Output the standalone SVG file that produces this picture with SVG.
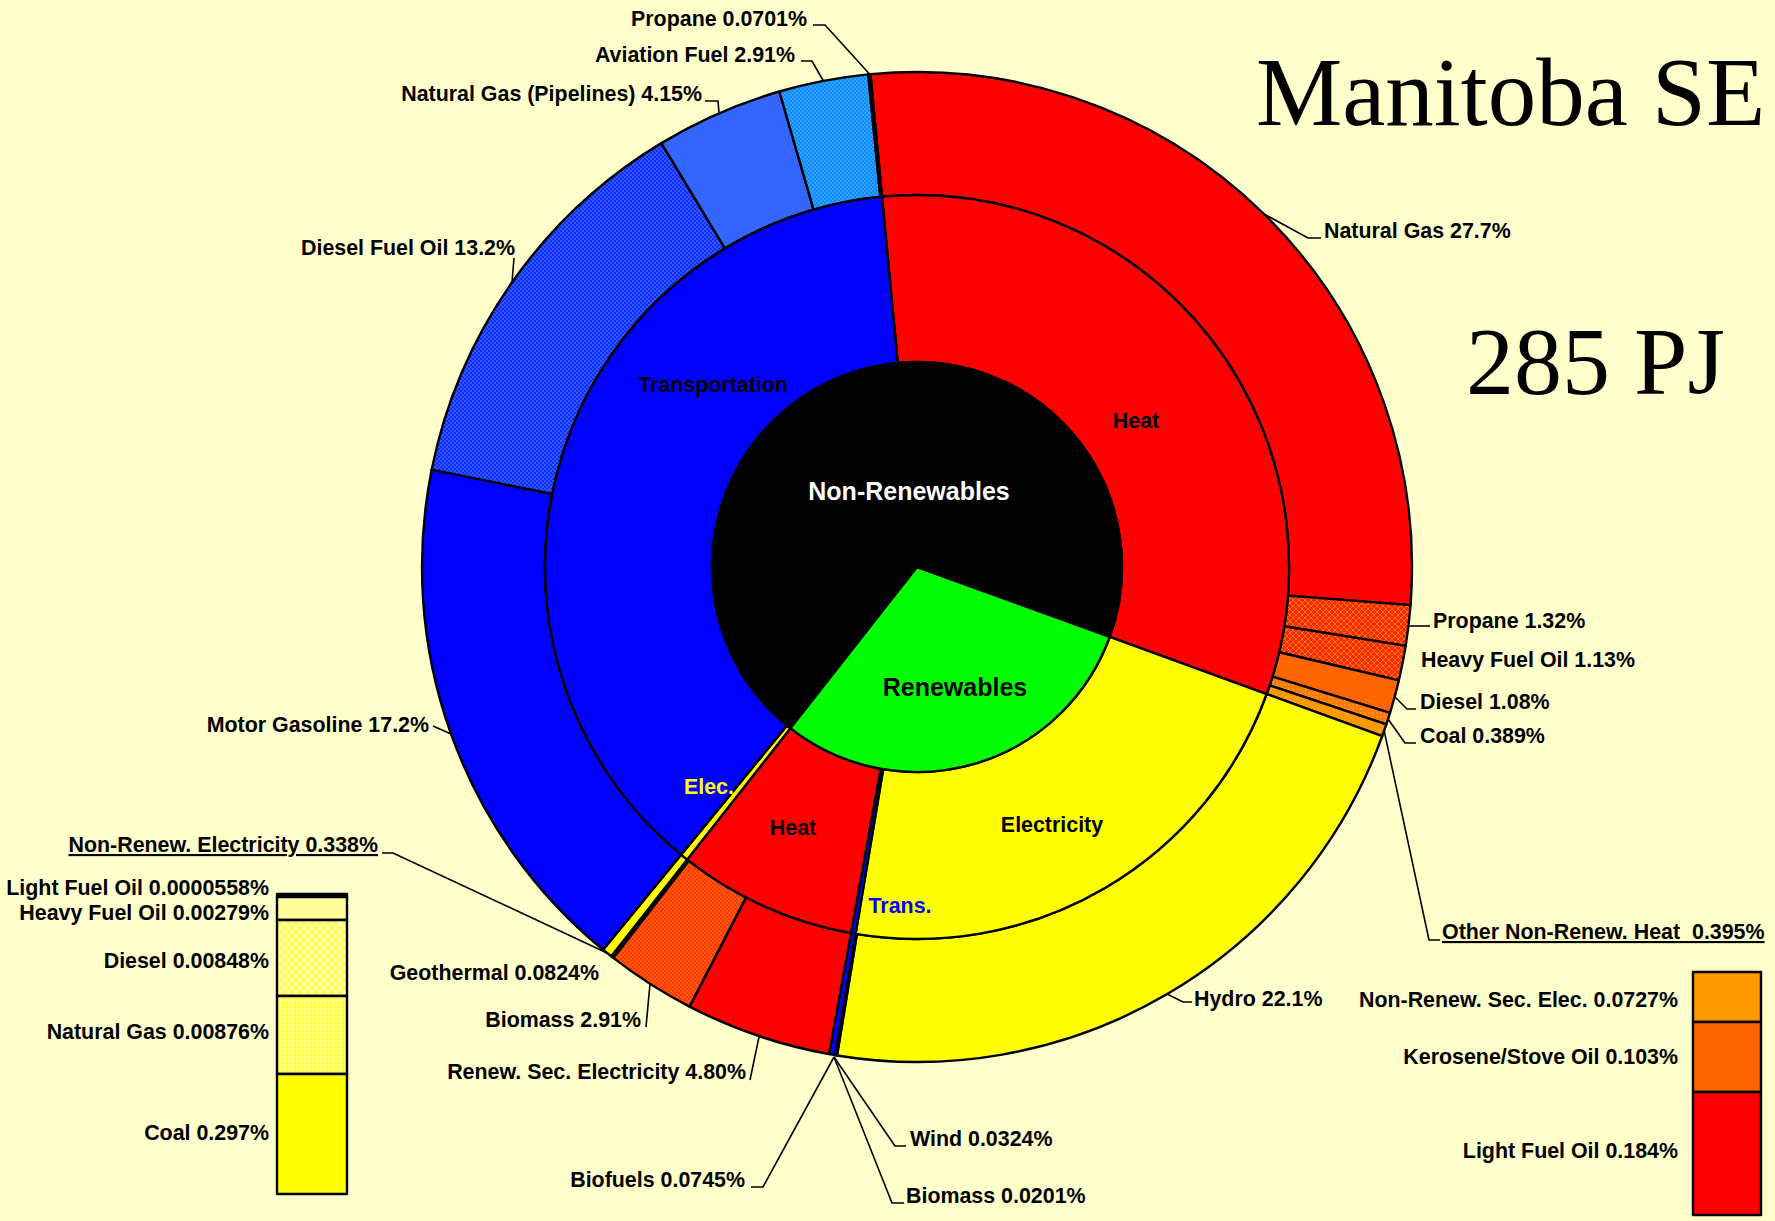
<svg xmlns="http://www.w3.org/2000/svg" width="1775" height="1221" viewBox="0 0 1775 1221">
<style>
.s{stroke:#000;stroke-width:2.4;stroke-linejoin:round}
.t{font-family:"Liberation Sans",Arial,sans-serif;font-weight:bold;font-size:21.4px;fill:#000}
.e{text-anchor:end}
.m{text-anchor:middle}
.u{text-decoration:underline}
.big{font-size:25px}
.ttl{font-family:"Liberation Serif","Times New Roman",serif;fill:#000}
.ld{fill:none;stroke:#000;stroke-width:1.6}
</style>
<defs>
<pattern id="pBlue" patternUnits="userSpaceOnUse" width="4" height="4"><rect width="4" height="4" fill="#1030FF"/><rect width="2" height="2" fill="#3355FF"/><rect x="2" y="2" width="2" height="2" fill="#3355FF"/></pattern>
<pattern id="pAvi" patternUnits="userSpaceOnUse" width="4" height="4"><rect width="4" height="4" fill="#0A8CFF"/><rect width="2" height="2" fill="#33A0FF"/><rect x="2" y="2" width="2" height="2" fill="#33A0FF"/></pattern>
<pattern id="pRed" patternUnits="userSpaceOnUse" width="6" height="6"><rect width="6" height="6" fill="#FF2800"/><path d="M0 3L3 0L6 3L3 6Z" fill="none" stroke="#FF7A00" stroke-width="1"/></pattern>
<pattern id="pBio" patternUnits="userSpaceOnUse" width="4" height="4"><rect width="4" height="4" fill="#FF3A00"/><rect width="2" height="2" fill="#FF5A10"/><rect x="2" y="2" width="2" height="2" fill="#FF5A10"/></pattern>
<pattern id="pCoal" patternUnits="userSpaceOnUse" width="4" height="4"><rect width="4" height="4" fill="#FF7A00"/><rect width="2" height="2" fill="#FF9020"/></pattern>
<pattern id="pDsl" patternUnits="userSpaceOnUse" width="8" height="8"><rect width="8" height="8" fill="#FFFFB0"/><path d="M0 4L4 0L8 4L4 8Z" fill="none" stroke="#FFFF40" stroke-width="1.5"/></pattern>
<pattern id="pNG" patternUnits="userSpaceOnUse" width="4" height="4"><rect width="4" height="4" fill="#FFFF50"/><rect width="2" height="2" fill="#FFFFA0"/></pattern>
</defs>
<rect width="1775" height="1221" fill="#FFFFCC"/>

<g id="title">
<text class="ttl" x="1256" y="125" font-size="97">Manitoba SE</text>
<text class="ttl" x="1466" y="394" font-size="96">285 PJ</text>
</g>

<g id="outer-ring" class="s">
<g id="natural-gas"><path d="M870.42 74.20A495 495 0 0 1 1410.53 605.13L1287.90 595.66A372 372 0 0 0 881.99 196.65Z" fill="#FF0000"/></g>
<g id="propane-heat"><path d="M1410.53 605.13A495 495 0 0 1 1405.67 645.91L1284.24 626.30A372 372 0 0 0 1287.90 595.66Z" fill="url(#pRed)"/></g>
<g id="heavy-fuel-oil"><path d="M1405.67 645.91A495 495 0 0 1 1398.83 680.42L1279.10 652.24A372 372 0 0 0 1284.24 626.30Z" fill="url(#pRed)"/></g>
<g id="diesel-heat"><path d="M1398.83 680.42A495 495 0 0 1 1390.02 712.88L1272.48 676.63A372 372 0 0 0 1279.10 652.24Z" fill="#FF6600"/></g>
<g id="coal-heat"><path d="M1390.02 712.88A495 495 0 0 1 1386.31 724.40L1269.69 685.29A372 372 0 0 0 1272.48 676.63Z" fill="url(#pCoal)"/></g>
<g id="other-heat"><path d="M1386.31 724.40A495 495 0 0 1 1382.25 736.01L1266.64 694.01A372 372 0 0 0 1269.69 685.29Z" fill="#FF9900"/></g>
<g id="hydro"><path d="M1382.25 736.01A495 495 0 0 1 837.01 1055.50L856.88 934.11A372 372 0 0 0 1266.64 694.01Z" fill="#FFFF00"/></g>
<g id="wind"><path d="M837.01 1055.50A495 495 0 0 1 836.15 1055.35L856.24 934.00A372 372 0 0 0 856.88 934.11Z" fill="#FFFF00"/></g>
<g id="biomass-elec"><path d="M836.15 1055.35A495 495 0 0 1 835.30 1055.21L855.60 933.90A372 372 0 0 0 856.24 934.00Z" fill="#FFFF00"/></g>
<g id="biofuels"><path d="M835.30 1055.21A495 495 0 0 1 829.00 1054.10L850.90 933.10A372 372 0 0 0 855.60 933.90Z" fill="#0000FF"/></g>
<g id="renew-sec-elec"><path d="M829.00 1054.10A495 495 0 0 1 689.49 1006.62L746.03 897.38A372 372 0 0 0 850.90 933.10Z" fill="#FF0000"/></g>
<g id="biomass-heat"><path d="M689.49 1006.62A495 495 0 0 1 613.30 957.89L688.77 860.76A372 372 0 0 0 746.03 897.38Z" fill="url(#pBio)"/></g>
<g id="geothermal"><path d="M613.30 957.89A495 495 0 0 1 611.28 956.31L687.25 859.57A372 372 0 0 0 688.77 860.76Z" fill="#FF3300"/></g>
<g id="nonrenew-elec-outer"><path d="M611.28 956.31A495 495 0 0 1 603.07 949.72L681.08 854.62A372 372 0 0 0 687.25 859.57Z" fill="#FFFF00"/></g>
<g id="motor-gasoline"><path d="M603.07 949.72A495 495 0 0 1 431.67 469.67L552.27 493.85A372 372 0 0 0 681.08 854.62Z" fill="#0000FF"/></g>
<g id="diesel-fuel-oil"><path d="M431.67 469.67A495 495 0 0 1 661.37 143.12L724.89 248.45A372 372 0 0 0 552.27 493.85Z" fill="url(#pBlue)"/></g>
<g id="natural-gas-pipelines"><path d="M661.37 143.12A495 495 0 0 1 779.39 91.51L813.59 209.66A372 372 0 0 0 724.89 248.45Z" fill="#3366FF"/></g>
<g id="aviation-fuel"><path d="M779.39 91.51A495 495 0 0 1 868.24 74.41L880.36 196.81A372 372 0 0 0 813.59 209.66Z" fill="url(#pAvi)"/></g>
<g id="propane-trans"><path d="M868.24 74.41A495 495 0 0 1 870.42 74.20L881.99 196.65A372 372 0 0 0 880.36 196.81Z" fill="#000080"/></g>
</g>

<g id="middle-ring" class="s">
<g id="nr-heat"><path d="M881.99 196.65A372 372 0 0 1 1266.64 694.01L1109.68 636.99A205 205 0 0 0 897.71 362.91Z" fill="#FF0000"/></g>
<g id="r-elec"><path d="M1266.64 694.01A372 372 0 0 1 855.60 933.90L883.16 769.19A205 205 0 0 0 1109.68 636.99Z" fill="#FFFF00"/></g>
<g id="r-trans"><path d="M855.60 933.90A372 372 0 0 1 850.90 933.10L880.60 768.75A205 205 0 0 0 883.16 769.19Z" fill="#0000FF"/></g>
<g id="r-heat"><path d="M850.90 933.10A372 372 0 0 1 687.25 859.57L790.39 728.23A205 205 0 0 0 880.60 768.75Z" fill="#FF0000"/></g>
<g id="nr-elec"><path d="M687.25 859.57A372 372 0 0 1 681.08 854.62L786.99 725.50A205 205 0 0 0 790.39 728.23Z" fill="#FFFF00"/></g>
<g id="nr-trans"><path d="M681.08 854.62A372 372 0 0 1 881.99 196.65L897.71 362.91A205 205 0 0 0 786.99 725.50Z" fill="#0000FF"/></g>
</g>

<g id="inner-ring" class="s">
<g id="non-renewables"><path d="M917 567L790.39 728.23A205 205 0 1 1 1109.68 636.99Z" fill="#000000"/></g>
<g id="renewables"><path d="M917 567L1109.68 636.99A205 205 0 0 1 790.39 728.23Z" fill="#00FF00"/></g>
</g>

<g id="connectors" class="ld">
<polyline points="813,25 825,25 869.5,74"/>
<polyline points="801,61 812,61 823.4,81"/>
<polyline points="705,101 718,101 719,113"/>
<polyline points="514,258 512,282"/>
<polyline points="433,726 451,734"/>
<polyline points="1321,238 1308,238 1264,214"/>
<polyline points="1410,626 1430,626"/>
<polyline points="1416,709 1407,709 1395,697"/>
<polyline points="1416,743 1405,743 1388,719"/>
<polyline points="1440,940 1429,940 1384,730"/>
<polyline points="1167,994 1183,1002 1192,1002"/>
<polyline points="834,1057 895,1146 906,1146"/>
<polyline points="834,1057 892,1203 904,1203"/>
<polyline points="834,1057 763,1187 751,1187"/>
<polyline points="759,1037 750,1080"/>
<polyline points="650,984 646,1027"/>
<polyline points="382,853 393,853 607,953"/>
</g>

<g id="labels">
<text class="t e" x="807" y="26">Propane 0.0701%</text>
<text class="t e" x="795" y="62">Aviation Fuel 2.91%</text>
<text class="t e" x="702" y="101">Natural Gas (Pipelines) 4.15%</text>
<text class="t e" x="515" y="255">Diesel Fuel Oil 13.2%</text>
<text class="t e" x="429" y="732">Motor Gasoline 17.2%</text>
<text class="t" x="1324" y="238">Natural Gas 27.7%</text>
<text class="t" x="1433" y="628">Propane 1.32%</text>
<text class="t" x="1421" y="667">Heavy Fuel Oil 1.13%</text>
<text class="t" x="1420" y="709">Diesel 1.08%</text>
<text class="t" x="1420" y="743">Coal 0.389%</text>
<text class="t u" x="1442" y="939">Other Non-Renew. Heat&#160; 0.395%</text>
<text class="t" x="1194" y="1006">Hydro 22.1%</text>
<text class="t" x="910" y="1146">Wind 0.0324%</text>
<text class="t" x="906" y="1203">Biomass 0.0201%</text>
<text class="t e" x="745" y="1187">Biofuels 0.0745%</text>
<text class="t e" x="746" y="1079">Renew. Sec. Electricity 4.80%</text>
<text class="t e" x="641" y="1027">Biomass 2.91%</text>
<text class="t e" x="599" y="980">Geothermal 0.0824%</text>
<text class="t e u" x="378" y="852">Non-Renew. Electricity 0.338%</text>
</g>

<g id="ring-labels">
<text class="t m" x="1136" y="428">Heat</text>
<text class="t m" x="713" y="392">Transportation</text>
<text class="t m big" x="909" y="500" style="fill:#FFFFFF">Non-Renewables</text>
<text class="t m big" x="955" y="696">Renewables</text>
<text class="t m" x="1052" y="832">Electricity</text>
<text class="t m" x="793" y="835">Heat</text>
<text class="t m" x="709" y="794" style="fill:#FFFF00">Elec.</text>
<text class="t m" x="900" y="913" style="fill:#0000FF">Trans.</text>
</g>

<g id="nonrenew-elec-breakdown">
<g class="s">
<rect x="277" y="894" width="70" height="3" fill="#000000"/>
<rect x="277" y="897" width="70" height="23" fill="#FFFF99"/>
<rect x="277" y="920" width="70" height="76" fill="url(#pDsl)"/>
<rect x="277" y="996" width="70" height="78" fill="url(#pNG)"/>
<rect x="277" y="1074" width="70" height="120" fill="#FFFF00"/>
</g>
<text class="t e" x="269" y="895">Light Fuel Oil 0.0000558%</text>
<text class="t e" x="269" y="920">Heavy Fuel Oil 0.00279%</text>
<text class="t e" x="269" y="968">Diesel 0.00848%</text>
<text class="t e" x="269" y="1039">Natural Gas 0.00876%</text>
<text class="t e" x="269" y="1140">Coal 0.297%</text>
</g>

<g id="other-heat-breakdown">
<g class="s">
<rect x="1693" y="972" width="68" height="50" fill="#FF9900"/>
<rect x="1693" y="1022" width="68" height="70" fill="#FF6600"/>
<rect x="1693" y="1092" width="68" height="123" fill="#FF0000"/>
</g>
<text class="t e" x="1678" y="1007">Non-Renew. Sec. Elec. 0.0727%</text>
<text class="t e" x="1678" y="1064">Kerosene/Stove Oil 0.103%</text>
<text class="t e" x="1678" y="1158">Light Fuel Oil 0.184%</text>
</g>
</svg>
